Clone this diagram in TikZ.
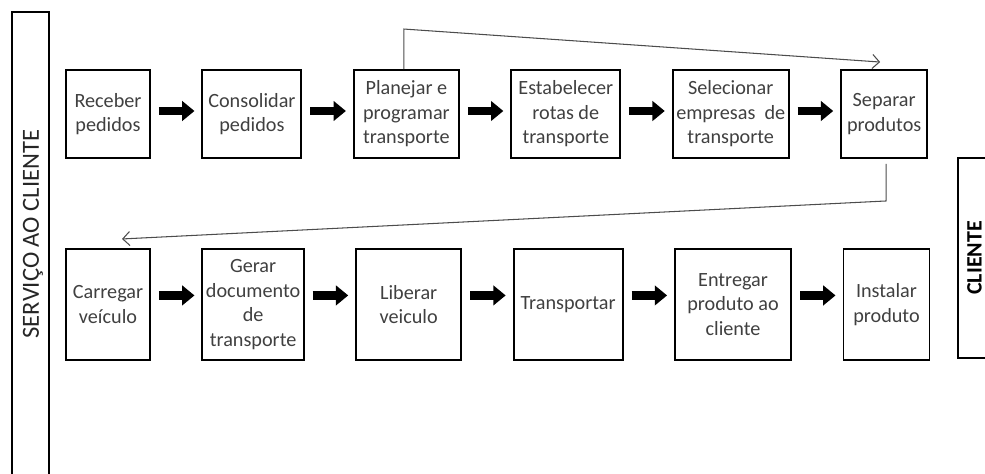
\documentclass[tikz,border=0pt]{standalone}
\usepackage{fontspec}
\setmainfont{Carlito}
\usetikzlibrary{arrows.meta,positioning,calc}
\definecolor{textgray}{RGB}{64,64,64}
\tikzset{
  stepbox/.style={
    draw=black,
    line width=1.1pt,
    align=center,
    inner sep=2pt,
    text=textgray,
    font=\fontsize{11.5}{14}\selectfont
  },
  toprow/.style={minimum height=1.76cm},
  botrow/.style={minimum height=2.22cm},
  fatline/.style={-{Triangle[length=7pt,width=11pt]}, line width=5pt,
    shorten <=0.16cm, shorten >=0.14cm},
  thinline/.style={-{Straight Barb[length=4pt,width=8pt]}, line width=0.6pt, black!70},
  sidebar/.style={draw=black, line width=1.3pt}
}

\begin{document}
\begin{tikzpicture}[node distance=1.01cm]
        \useasboundingbox (0,0) rectangle (19.70,9.46);
        % side bars
        \draw[sidebar] (0.24,9.22) rectangle (0.98,-0.5);
        \node[rotate=90, font=\fontsize{14}{16}\selectfont, text=black!85] (servico) at (0.66,4.78) {SERVIÇO AO CLIENTE};
        \draw[sidebar] (19.16,6.30) rectangle (20.4,2.30);
        \node[rotate=90, font=\bfseries\fontsize{12.5}{14}\selectfont] (cliente) at (19.49,4.30) {CLIENTE};
        % top row
        \node[stepbox, toprow, minimum width=1.68cm] (receber) at (2.16,7.18) {Receber\\pedidos};
        \node[stepbox, toprow, right=of receber, minimum width=1.98cm] (consolidar) {Consolidar\\pedidos};
        \node[stepbox, toprow, right=of consolidar, minimum width=2.10cm] (planejar) {Planejar e\\programar\\transporte};
        \node[stepbox, toprow, right=of planejar, minimum width=2.18cm] (rotas) {Estabelecer\\rotas de\\transporte};
        \node[stepbox, toprow, right=of rotas, minimum width=2.32cm] (empresas) {Selecionar\\empresas\ \ de\\transporte};
        \node[stepbox, toprow, right=of empresas, minimum width=1.72cm] (separar) {Separar\\produtos};
        % bottom row
        \node[stepbox, botrow, below=1.78cm of receber, minimum width=1.68cm] (carregar) {Carregar\\veículo};
        \node[stepbox, botrow, right=of carregar, minimum width=1.98cm] (documento) {Gerar\\documento\\de\\transporte};
        \node[stepbox, botrow, right=of documento, minimum width=2.10cm] (liberar) {Liberar\\veiculo};
        \node[stepbox, botrow, right=of liberar, minimum width=2.18cm] (transportar) {Transportar};
        \node[stepbox, botrow, right=of transportar, minimum width=2.32cm] (entregar) {Entregar\\produto ao\\cliente};
        \node[stepbox, botrow, right=of entregar, minimum width=1.72cm] (instalar) {Instalar\\produto};
        % block arrows
        \foreach \a/\b in {receber/consolidar, consolidar/planejar, planejar/rotas, rotas/empresas, empresas/separar}
          \draw[fatline] ([yshift=0.06cm]\a.east) -- ([yshift=0.06cm]\b.west);
        \foreach \a/\b in {carregar/documento, documento/liberar, liberar/transportar, transportar/entregar, entregar/instalar}
          \draw[fatline] ([yshift=0.18cm]\a.east) -- ([yshift=0.18cm]\b.west);
        % return connectors
        \draw[thinline] ([xshift=-0.05cm]planejar.north) -- ++(0,0.80) -- ($(separar.north)+(-0.08,0.14)$);
        \draw[thinline] ([shift={(0.04,-0.1)}]separar.south) -- ++(0,-0.74) -- ($(carregar.north)+(0.28,0.18)$);
      \end{tikzpicture}
\end{document}
